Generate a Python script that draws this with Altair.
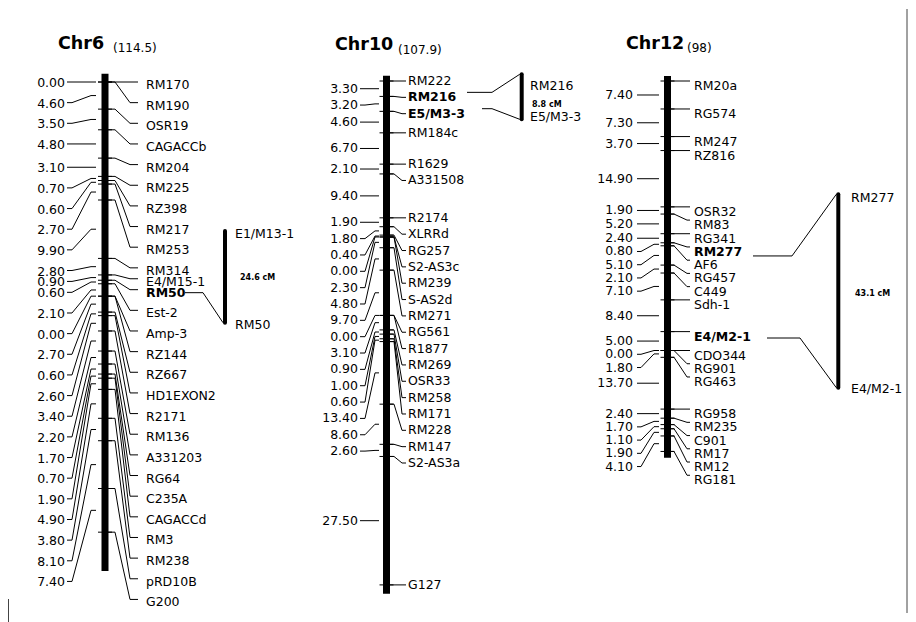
import altair as alt
import pandas as pd

# ---------------- data ----------------
CHR6_TITLE, CHR6_TOTAL = "Chr6", "(114.5)"
CHR6_MARKERS = ["RM170", "RM190", "OSR19", "CAGACCb", "RM204", "RM225", "RZ398", "RM217",
                "RM253", "RM314", "E4/M15-1", "RM50", "Est-2", "Amp-3", "RZ144", "RZ667",
                "HD1EXON2", "R2171", "RM136", "A331203", "RG64", "C235A", "CAGACCd", "RM3",
                "RM238", "pRD10B", "G200"]
CHR6_INTERVALS = [0.00, 4.60, 3.50, 4.80, 3.10, 0.70, 0.60, 2.70, 9.90, 2.80, 0.90, 0.60, 2.10,
                  0.00, 2.70, 0.60, 2.60, 3.40, 2.20, 1.70, 0.70, 1.90, 4.90, 3.80, 8.10, 7.40]
CHR6_BOLD = ["RM50"]
CHR6_BAR_CM = [-1.4, 82.9]
CHR6_BRACKET = ["E1/M13-1", "RM50", "24.6 cM"]

CHR10_TITLE, CHR10_TOTAL = "Chr10", "(107.9)"
CHR10_MARKERS = ["RM222", "RM216", "E5/M3-3", "RM184c", "R1629", "A331508", "R2174", "XLRRd",
                 "RG257", "S2-AS3c", "RM239", "S-AS2d", "RM271", "RG561", "R1877", "RM269",
                 "OSR33", "RM258", "RM171", "RM228", "RM147", "S2-AS3a", "G127"]
CHR10_INTERVALS = [3.30, 3.20, 4.60, 6.70, 2.10, 9.40, 1.90, 1.80, 0.40, 0.00, 2.30, 4.80, 9.70,
                   0.00, 3.10, 0.90, 1.00, 0.60, 13.40, 8.60, 2.60, 27.50]
CHR10_BOLD = ["RM216", "E5/M3-3"]
CHR10_BAR_CM = [-1.1, 109.8]
CHR10_BRACKET = ["RM216", "E5/M3-3", "8.8 cM"]

CHR12_TITLE, CHR12_TOTAL = "Chr12", "(98)"
CHR12_MARKERS = ["RM20a", "RG574", "RM247", "RZ816", "OSR32", "RM83", "RG341", "RM277", "AF6",
                 "RG457", "C449", "Sdh-1", "E4/M2-1", "CDO344", "RG901", "RG463", "RG958",
                 "RM235", "C901", "RM17", "RM12", "RG181"]
CHR12_INTERVALS = [7.40, 7.30, 3.70, 14.90, 1.90, 5.20, 2.40, 0.80, 5.10, 2.10, 7.10, 8.40, 5.00,
                   0.00, 1.80, 13.70, 2.40, 1.70, 1.10, 1.90, 4.10]
CHR12_BOLD = ["RM277", "E4/M2-1"]
CHR12_BAR_CM = [-1.3, 99.7]
CHR12_BRACKET = ["RM277", "E4/M2-1", "43.1 cM"]

# ---------------- layout (page pixels) ----------------
H = 614
FONT = "DejaVu Sans"
FS = 12.5

LAYOUT = {
    "Chr6": dict(x0=8, w=300, y0=81, k=5.9, bar=105, r=(115, 130, 138), rtext=146, rdy=3,
                 l=(67, 72, 91, 96), ltext=65, ldy=1, gap=3.5, tight=(10, 11), tight_gap=1.85,
                 title=(58, 43), total=(113, 47),
                 br_x=225, br_y=(230, 321.7), br_lab=((235, 233), (235, 324)), br_dist=(240, 277),
                 br_conn=[("RM50", 185, 203, 321.7, 0.0)],
                 frame=[(0.5, 590, 614)]),
    "Chr10": dict(x0=308, w=282, y0=80, k=4.67, bar=386.5, r=(394, 402, 406), rtext=408, rdy=0,
                  l=(360, 365, 375, 379), ltext=358, ldy=0, gap=3.5, tight=(), tight_gap=3.5,
                  title=(335, 44), total=(398, 48.5),
                  br_x=521.7, br_y=(73.3, 118.3), br_lab=((530, 85), (530, 116)), br_dist=(532, 104),
                  br_conn=[("RM216", 467, 492, 73.3, -5), ("E5/M3-3", 482, 492, 118.3, -5)],
                  frame=[]),
    "Chr12": dict(x0=590, w=318, y0=80, k=3.78, bar=667.5, r=(674, 687, 690), rtext=694, rdy=5,
                  l=(637, 641, 654, 659), ltext=633, ldy=0, gap=3.5, tight=(), tight_gap=3.5,
                  title=(626, 43.3), total=(687, 47),
                  br_x=838.3, br_y=(193.3, 386.7), br_lab=((851, 197), (851, 388)), br_dist=(855, 293),
                  br_conn=[("RM277", 753, 792, 193.3, 4), ("E4/M2-1", 767, 800, 386.7, 1.4)],
                  frame=[(317, 0, 604)]),
}


def spread(targets, gap, tight, tight_gap):
    rows = []
    for i, t in enumerate(targets):
        if i == 0:
            rows.append(t)
        else:
            g = tight_gap if i in tight else gap
            rows.append(max(t, rows[-1] + g))
    return rows


def build(title, total, markers, intervals, bold, bar_cm, bracket, L):
    k, xo, W = L["k"], L["x0"], L["w"]
    top = L["y0"] - 8
    d0 = -top / k
    d1 = d0 + H / k

    def X(v):
        return v - xo

    def Y(v):
        return (v - L["y0"]) / k

    pos = [0.0]
    for v in intervals:
        pos.append(round(pos[-1] + v, 4))
    mids = [(pos[i] + pos[i + 1]) / 2 for i in range(len(intervals))]
    rrow = spread(pos, L["gap"], L["tight"], L["tight_gap"])
    lrow = spread(mids, L["gap"], L["tight"], L["tight_gap"])

    xsc = alt.Scale(domain=[0, W], nice=False, zero=False)
    ysc = alt.Scale(domain=[d0, d1], nice=False, zero=False, reverse=True)
    ex = alt.X("x:Q", scale=xsc, axis=None)
    ey = alt.Y("y:Q", scale=ysc, axis=None)

    layers = []
    # chromosome bar
    bar_df = pd.DataFrame({"x": [X(L["bar"])], "y": [bar_cm[0]], "y2": [bar_cm[1]]})
    layers.append(alt.Chart(bar_df).mark_rule(color="black", strokeWidth=7, strokeCap="butt")
                  .encode(x=ex, y=ey, y2="y2:Q"))
    # locus ticks
    tick_df = pd.DataFrame({"x": [X(L["bar"] - 7)] * len(pos), "x2": [X(L["bar"] + 7)] * len(pos),
                            "y": pos})
    layers.append(alt.Chart(tick_df).mark_rule(color="black", strokeWidth=1)
                  .encode(x=ex, x2="x2:Q", y=ey))
    # right connectors
    r1, r2, r3 = L["r"]
    rc = []
    for i, (p, rw) in enumerate(zip(pos, rrow)):
        for o, (xx, yy) in enumerate([(L["bar"] + 3, p), (r1, p), (r2, rw), (r3, rw)]):
            rc.append({"id": i, "o": o, "x": X(xx), "y": yy})
    layers.append(alt.Chart(pd.DataFrame(rc)).mark_line(color="black", strokeWidth=1)
                  .encode(x=ex, y=ey, detail="id:N", order="o:Q"))
    # left connectors
    l0, l1, l2, l3 = L["l"]
    lc = []
    for i, (m, rw) in enumerate(zip(mids, lrow)):
        for o, (xx, yy) in enumerate([(l0, rw), (l1, rw), (l2, m), (l3, m)]):
            lc.append({"id": i, "o": o, "x": X(xx), "y": yy})
    layers.append(alt.Chart(pd.DataFrame(lc)).mark_line(color="black", strokeWidth=1)
                  .encode(x=ex, y=ey, detail="id:N", order="o:Q"))
    # right labels
    rl = pd.DataFrame({"x": [X(L["rtext"])] * len(markers), "y": rrow, "t": markers,
                       "b": [m in bold for m in markers]})
    layers.append(alt.Chart(rl[~rl["b"]]).mark_text(align="left", baseline="middle", dy=L["rdy"],
                                                   font=FONT, fontSize=FS, color="black")
                  .encode(x=ex, y=ey, text="t:N"))
    layers.append(alt.Chart(rl[rl["b"]]).mark_text(align="left", baseline="middle", dy=L["rdy"],
                                                  font=FONT, fontSize=FS, fontWeight="bold",
                                                  color="black")
                  .encode(x=ex, y=ey, text="t:N"))
    # left labels (interval distances)
    ll = pd.DataFrame({"x": [X(L["ltext"])] * len(intervals), "y": lrow,
                       "t": [f"{v:.2f}" for v in intervals]})
    layers.append(alt.Chart(ll).mark_text(align="right", baseline="middle", dy=L["ldy"],
                                          font=FONT, fontSize=FS, color="black")
                  .encode(x=ex, y=ey, text="t:N"))
    # side bracket
    bdf = pd.DataFrame({"x": [X(L["br_x"])], "y": [Y(L["br_y"][0])], "y2": [Y(L["br_y"][1])]})
    layers.append(alt.Chart(bdf).mark_rule(color="black", strokeWidth=4, strokeCap="round")
                  .encode(x=ex, y=ey, y2="y2:Q"))
    blab = pd.DataFrame({"x": [X(L["br_lab"][0][0]), X(L["br_lab"][1][0])],
                         "y": [Y(L["br_lab"][0][1]), Y(L["br_lab"][1][1])],
                         "t": bracket[:2]})
    layers.append(alt.Chart(blab).mark_text(align="left", baseline="middle", font=FONT,
                                            fontSize=FS, color="black")
                  .encode(x=ex, y=ey, text="t:N"))
    bd = pd.DataFrame({"x": [X(L["br_dist"][0])], "y": [Y(L["br_dist"][1])], "t": [bracket[2]]})
    layers.append(alt.Chart(bd).mark_text(align="left", baseline="middle", font=FONT,
                                          fontSize=8, fontWeight="bold", color="black")
                  .encode(x=ex, y=ey, text="t:N"))
    bc = []
    for j, (name, sx, exx, endy, off) in enumerate(L["br_conn"]):
        idx = markers.index(name)
        ry = rrow[idx] + (L["rdy"] + off) / k
        for o, (xx, yy) in enumerate([(sx, ry), (exx, ry), (L["br_x"] - 2, Y(endy)),
                                      (L["br_x"], Y(endy))]):
            bc.append({"id": j, "o": o, "x": X(xx), "y": yy})
    layers.append(alt.Chart(pd.DataFrame(bc)).mark_line(color="black", strokeWidth=1)
                  .encode(x=ex, y=ey, detail="id:N", order="o:Q"))
    # titles
    tdf = pd.DataFrame({"t": [title]})
    layers.append(alt.Chart(tdf).mark_text(align="left", baseline="middle", font=FONT,
                                           fontSize=17.5, fontWeight="bold", color="black")
                  .encode(x=alt.value(X(L["title"][0])), y=alt.value(L["title"][1] - 8),
                          text="t:N"))
    sdf = pd.DataFrame({"t": [total]})
    layers.append(alt.Chart(sdf).mark_text(align="left", baseline="middle", font=FONT,
                                           fontSize=12, color="black")
                  .encode(x=alt.value(X(L["total"][0])), y=alt.value(L["total"][1] - 8),
                          text="t:N"))
    # frame fragments of the scanned figure
    for (fx, fy0, fy1) in L["frame"]:
        fdf = pd.DataFrame({"t": ["frame"]})
        layers.append(alt.Chart(fdf).mark_rule(color="#444444", strokeWidth=1)
                      .encode(x=alt.value(fx), y=alt.value(fy0), y2=alt.value(fy1)))
    return alt.layer(*layers).properties(width=W, height=H)


p6 = build(CHR6_TITLE, CHR6_TOTAL, CHR6_MARKERS, CHR6_INTERVALS, CHR6_BOLD, CHR6_BAR_CM,
           CHR6_BRACKET, LAYOUT["Chr6"])
p10 = build(CHR10_TITLE, CHR10_TOTAL, CHR10_MARKERS, CHR10_INTERVALS, CHR10_BOLD, CHR10_BAR_CM,
            CHR10_BRACKET, LAYOUT["Chr10"])
p12 = build(CHR12_TITLE, CHR12_TOTAL, CHR12_MARKERS, CHR12_INTERVALS, CHR12_BOLD, CHR12_BAR_CM,
            CHR12_BRACKET, LAYOUT["Chr12"])

chart = (alt.hconcat(p6, p10, p12, spacing=0)
         .properties(padding=0, background="white")
         .configure_view(strokeWidth=0))

chart.save("out.html", embed_options={"renderer": "svg", "actions": False})
